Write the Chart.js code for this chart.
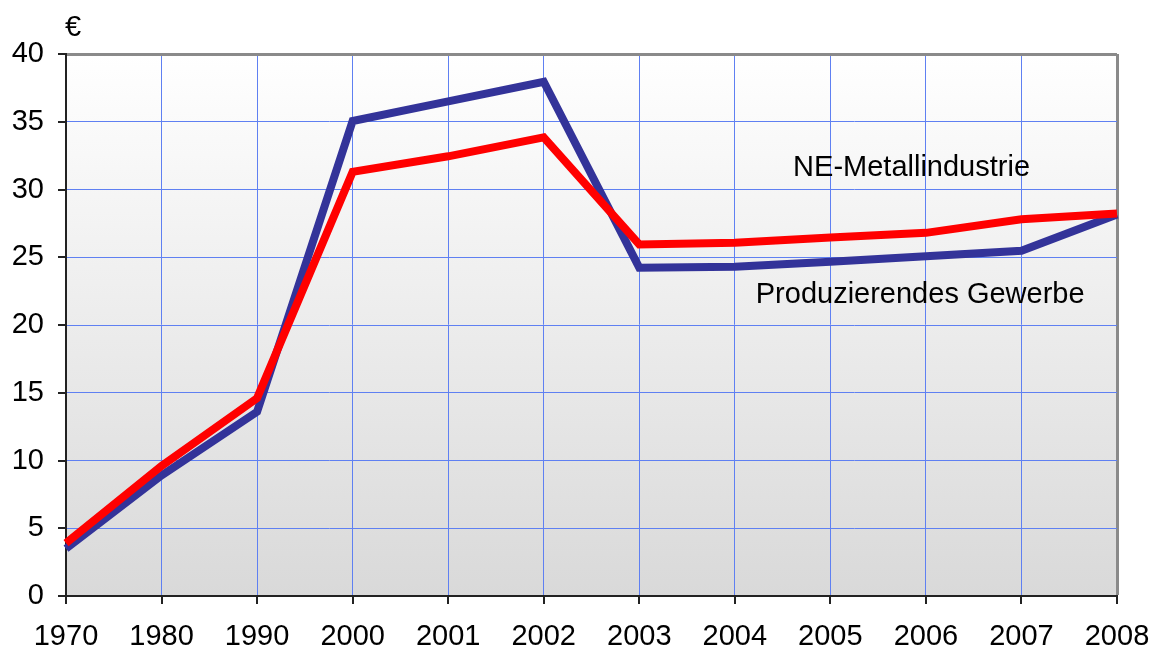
<!DOCTYPE html>
<html>
<head>
<meta charset="utf-8">
<script src="https://cdn.jsdelivr.net/npm/chart.js@4/dist/chart.umd.min.js"></script>
<style>
  html, body { margin: 0; padding: 0; background: #fff; }
  #wrap { width: 1152px; height: 650px; }
</style>
</head>
<body>
<div id="wrap"><canvas id="chart" width="1152" height="650"></canvas></div>
<script>
const years = ["1970", "1980", "1990", "2000", "2001", "2002", "2003", "2004", "2005", "2006", "2007", "2008"];
const neMetall = [3.9, 9.6, 14.6, 31.3, 32.45, 33.85, 25.95, 26.07, 26.46, 26.8, 27.8, 28.23];
const produzierend = [3.5, 8.9, 13.6, 35.05, 36.5, 37.95, 24.23, 24.3, 24.67, 25.08, 25.48, 28.16];
const yTicks = [0, 5, 10, 15, 20, 25, 30, 35, 40];

const FONT = "'Liberation Sans', Arial, sans-serif";
const FONT_SIZE = 29;
const GRID_BLUE = "#5f80f2";
const FRAME_GRAY = "#8a8a8a";

// gradient behind the plot area, ticks and the text labels
const decor = {
  id: "decor",
  beforeDraw(chart) {
    const { ctx, chartArea: a } = chart;
    const g = ctx.createLinearGradient(0, a.top, 0, a.bottom);
    g.addColorStop(0, "#ffffff");
    g.addColorStop(1, "#d9d9d9");
    ctx.save();
    ctx.fillStyle = g;
    ctx.fillRect(a.left, a.top, a.right - a.left, a.bottom - a.top);
    ctx.restore();
  },
  afterDatasetsDraw(chart) {
    const { ctx, chartArea: a, scales } = chart;
    ctx.save();
    ctx.strokeStyle = "#222";
    ctx.lineWidth = 2;
    ctx.beginPath();
    scales.y.ticks.forEach((t, i) => {
      const y = Math.round(scales.y.getPixelForTick(i));
      ctx.moveTo(a.left - 8, y);
      ctx.lineTo(a.left, y);
    });
    scales.x.ticks.forEach((t, i) => {
      const x = Math.round(scales.x.getPixelForTick(i));
      ctx.moveTo(x, a.bottom);
      ctx.lineTo(x, a.bottom + 8);
    });
    ctx.stroke();

    ctx.fillStyle = "#000";
    ctx.font = FONT_SIZE + "px " + FONT;
    ctx.textAlign = "center";
    ctx.textBaseline = "middle";
    ctx.fillText("€", 73, 28);
    ctx.fillText("NE-Metallindustrie", scales.x.getPixelForValue(8.85), scales.y.getPixelForValue(31.6));
    ctx.fillText("Produzierendes Gewerbe", scales.x.getPixelForValue(8.94), scales.y.getPixelForValue(22.2));
    ctx.restore();
  }
};

new Chart(document.getElementById("chart"), {
  type: "line",
  data: {
    labels: years,
    datasets: [
      {
        label: "NE-Metallindustrie",
        data: neMetall,
        borderColor: "#ff0000",
        borderWidth: 8,
        borderJoinStyle: "miter",
        pointRadius: 0,
        tension: 0
      },
      {
        label: "Produzierendes Gewerbe",
        data: produzierend,
        borderColor: "#333399",
        borderWidth: 8,
        borderJoinStyle: "miter",
        pointRadius: 0,
        tension: 0
      }
    ]
  },
  options: {
    responsive: false,
    animation: false,
    layout: { padding: { left: 0, right: 35, top: 54, bottom: 0 } },
    plugins: {
      legend: { display: false },
      tooltip: { enabled: false }
    },
    scales: {
      x: {
        offset: false,
        afterFit(scale) {
          scale.height = 54;
          scale.paddingLeft = 0;
          scale.paddingRight = 0;
        },
        grid: {
          drawTicks: false,
          lineWidth: (c) => (c.index === years.length - 1 ? 3 : 1),
          color: (c) => (c.index === years.length - 1 ? FRAME_GRAY : GRID_BLUE)
        },
        border: { color: "#222", width: 2 },
        ticks: {
          color: "#000",
          padding: 24,
          maxRotation: 0,
          autoSkip: false,
          font: { family: FONT, size: FONT_SIZE }
        }
      },
      y: {
        min: 0,
        max: 40,
        afterFit(scale) {
          scale.width = 66;
          scale.paddingTop = 0;
          scale.paddingBottom = 0;
        },
        afterBuildTicks(scale) { scale.ticks = yTicks.map((v) => ({ value: v })); },
        grid: {
          drawTicks: false,
          lineWidth: (c) => (c.tick && c.tick.value === 40 ? 3 : 1),
          color: (c) => (c.tick && c.tick.value === 40 ? FRAME_GRAY : GRID_BLUE)
        },
        border: { color: "#222", width: 2 },
        ticks: {
          color: "#000",
          padding: 22,
          font: { family: FONT, size: FONT_SIZE }
        }
      }
    }
  },
  plugins: [decor]
});
</script>
</body>
</html>
